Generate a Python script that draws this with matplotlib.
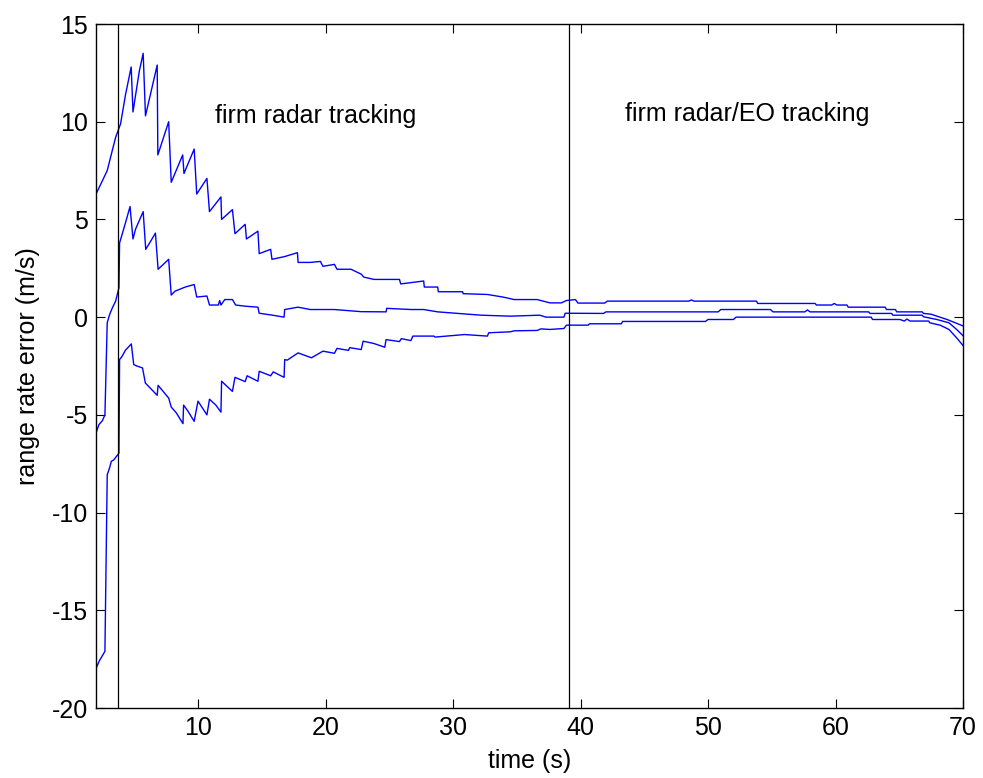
import matplotlib
matplotlib.use("Agg")
import matplotlib.pyplot as plt

plt.rcParams['font.family'] = ['Liberation Sans', 'DejaVu Sans']
plt.rcParams['axes.unicode_minus'] = False

# upper bound curve
upper_t = [2.0, 2.37, 2.88, 3.15, 3.54, 3.93, 4.32, 4.76, 4.9, 5.4, 5.7, 5.88, 6.8, 6.85, 7.7, 7.9,
           8.8, 8.9, 9.7, 9.9, 10.7, 10.9, 11.8, 11.85, 12.7, 12.9, 13.7, 13.8, 14.7, 14.8, 15.7, 15.8,
           16.8, 17.8, 17.85, 18.8, 19.6, 19.8, 20.7, 20.9, 22.0, 22.8, 23.0, 23.8, 25.8, 25.9, 27.7,
           27.75, 28.8, 28.85, 30.75, 30.8, 32.7, 33.9, 34.8, 36.6, 37.6, 38.5, 38.9, 39.6, 39.8, 41.9,
           42.1, 48.5, 48.7, 48.9, 53.8, 53.9, 58.4, 58.5, 59.7, 59.9, 60.1, 60.9, 61.0, 63.9, 64.0,
           64.7, 64.8, 66.8, 66.9, 67.5, 67.95, 68.75, 69.4, 70.0]
upper_v = [6.3, 6.8, 7.5, 8.2, 9.2, 9.9, 11.4, 12.8, 10.5, 12.6, 13.5, 10.3, 12.9, 8.3, 10.0, 6.9,
           8.3, 7.35, 8.6, 6.3, 7.1, 5.4, 6.15, 5.0, 5.5, 4.27, 4.75, 4.0, 4.4, 3.25, 3.47, 2.96,
           3.1, 3.3, 2.8, 2.8, 2.85, 2.6, 2.7, 2.45, 2.45, 2.2, 2.05, 1.93, 1.93, 1.7, 1.85,
           1.54, 1.54, 1.3, 1.3, 1.2, 1.16, 1.03, 0.9, 0.9, 0.73, 0.73, 0.85, 0.9, 0.72, 0.72,
           0.82, 0.82, 0.88, 0.82, 0.82, 0.7, 0.7, 0.62, 0.62, 0.7, 0.62, 0.62, 0.51, 0.51, 0.39,
           0.39, 0.27, 0.27, 0.19, 0.15, 0.05, -0.12, -0.29, -0.45]

# mean error curve
mid_t = [2.0, 2.23, 2.5, 2.7, 2.88, 3.07, 3.3, 3.54, 3.8, 3.85, 4.05, 4.3, 4.67, 4.9, 5.1, 5.7, 5.9,
         6.3, 6.66, 6.87, 7.7, 7.9, 8.2, 9.0, 9.7, 9.9, 10.7, 10.9, 11.6, 11.7, 11.8, 12.1, 12.7,
         12.95, 13.7, 14.7, 14.8, 15.85, 16.75, 16.8, 17.85, 18.8, 20.7, 22.8, 24.75, 24.8, 26.7,
         27.7, 28.8, 32.2, 34.5, 36.8, 37.3, 38.7, 38.8, 41.8, 42.0, 50.8, 51.0, 54.9, 55.1, 57.6,
         57.8, 58.0, 62.6, 62.7, 64.4, 64.5, 66.8, 66.9, 67.95, 68.9, 69.5, 70.0]
mid_v = [-5.93, -5.5, -5.3, -5.0, -0.29, 0.14, 0.5, 0.82, 1.5, 3.8, 4.24, 4.8, 5.66, 4.0, 4.5, 5.4, 3.47,
         3.9, 4.3, 2.45, 2.96, 1.13, 1.33, 1.54, 1.67, 1.03, 1.08, 0.62, 0.62, 0.85, 0.62, 0.9, 0.9,
         0.62, 0.56, 0.51, 0.2, 0.1, 0.0, 0.39, 0.51, 0.39, 0.39, 0.28, 0.27, 0.45, 0.39,
         0.39, 0.27, 0.1, 0.05, 0.1, 0.0, 0.0, 0.2, 0.19, 0.27, 0.27, 0.39, 0.39, 0.27, 0.27,
         0.37, 0.27, 0.27, 0.19, 0.19, 0.1, 0.1, 0.02, -0.12, -0.29, -0.63, -0.95]

# lower bound curve
lower_t = [2.0, 2.25, 2.7, 2.88, 3.07, 3.2, 3.4, 3.8, 3.85, 4.05, 4.3, 4.77, 4.96, 5.2, 5.65, 5.87,
           6.8, 6.87, 7.7, 7.9, 8.3, 8.82, 8.87, 9.2, 9.7, 10.0, 10.3, 10.7, 10.9, 11.4, 11.8, 11.85,
           12.7, 12.9, 13.7, 13.85, 14.7, 14.8, 15.7, 15.9, 16.75, 16.8, 17.0, 17.85, 18.9, 19.8,
           20.7, 20.9, 21.8, 21.9, 22.8, 22.95, 23.8, 24.65, 24.75, 25.8, 25.95, 26.7, 26.85, 28.5,
           28.6, 30.9, 32.7, 32.8, 34.5, 34.8, 36.6, 36.9, 37.6, 38.7, 38.9, 40.6, 40.7, 43.2, 43.3,
           49.8, 50.0, 52.0, 52.2, 62.8, 62.9, 65.05, 65.4, 65.6, 65.85, 67.3, 67.4, 68.2, 68.9,
           69.5, 70.0]
lower_v = [-17.98, -17.6, -17.1, -8.07, -7.7, -7.38, -7.3, -6.96, -2.17, -2.0, -1.7, -1.37, -2.43, -2.5,
           -2.6, -3.37, -4.0, -3.49, -4.14, -4.6, -4.9, -5.45, -4.5, -4.8, -5.33, -4.3, -4.6, -5.0,
           -4.2, -4.5, -4.86, -3.28, -3.8, -3.08, -3.3, -3.0, -3.28, -2.77, -3.0, -2.8, -3.08, -2.17,
           -2.2, -1.83, -2.08, -1.74, -1.85, -1.6, -1.7, -1.56, -1.66, -1.23, -1.35, -1.54, -1.15,
           -1.25, -1.1, -1.2, -0.97, -0.97, -1.02, -0.89, -0.97, -0.8, -0.75, -0.7, -0.68, -0.6,
           -0.63, -0.58, -0.41, -0.41, -0.34, -0.34, -0.22, -0.22, -0.12, -0.12, 0.0, 0.0, -0.12,
           -0.12, -0.2, -0.1, -0.2, -0.2, -0.29, -0.41, -0.63, -1.06, -1.45]

phase_times = [3.72, 39.1]
phase_labels = ["firm radar tracking", "firm radar/EO tracking"]
phase_label_pos = [(11.3, 10.3), (43.5, 10.4)]

xticks = [10, 20, 30, 40, 50, 60, 70]
yticks = [-20, -15, -10, -5, 0, 5, 10, 15]

fig = plt.figure(figsize=(9.83, 7.78), dpi=100)
ax = fig.add_axes([96/983, 1-708/778, (963-96)/983, (708-24)/778])

for t, v in [(upper_t, upper_v), (mid_t, mid_v), (lower_t, lower_v)]:
    ax.plot(t, v, color='#0000ff', lw=1.0)

for pt in phase_times:
    ax.axvline(pt, color='black', lw=0.9)

for lab, (px, py) in zip(phase_labels, phase_label_pos):
    ax.text(px, py, lab, fontsize=18, va='center', ha='left')

ax.set_xlim(2, 70)
ax.set_ylim(-20, 15)
ax.set_xticks(xticks)
ax.set_yticks(yticks)
ax.tick_params(direction='in', length=6.5, width=0.8, top=True, right=True,
               labelsize=18, pad=6)
for s in ax.spines.values():
    s.set_linewidth(1.0)
ax.set_xlabel("time (s)", fontsize=18, labelpad=6)
ax.set_ylabel("range rate error (m/s)", fontsize=18, labelpad=8)

fig.savefig("out.png", dpi=100)
